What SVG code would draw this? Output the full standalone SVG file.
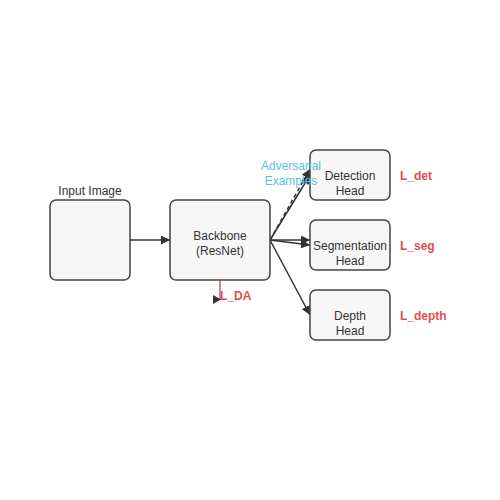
<svg xmlns="http://www.w3.org/2000/svg" width="500" height="500" viewBox="0 0 500 500">
<style>
.box{fill:#f7f7f7;stroke:#444;stroke-width:1.5}
.t{font-family:"Liberation Sans",Arial,sans-serif;font-size:12px;fill:#333;text-anchor:middle}
.loss{font-family:"Liberation Sans",Arial,sans-serif;font-size:12px;font-weight:bold;fill:#e04f4f}
.adv{font-family:"Liberation Sans",Arial,sans-serif;font-size:12px;fill:#5bc0de;text-anchor:middle}
.c{stroke:#333;stroke-width:1.5;fill:none}
</style>
<defs>
<marker id="ah" viewBox="0 0 10 10" refX="10" refY="5" markerWidth="6" markerHeight="6" markerUnits="strokeWidth" orient="auto">
<path d="M0,0 L10,5 L0,10 z" fill="#333"/>
</marker>
</defs>
<rect width="500" height="500" fill="#fff"/>
<g id="connectors">
<line class="c" x1="130" y1="240" x2="170" y2="240" marker-end="url(#ah)"/>
<line class="c" x1="270" y1="240" x2="310" y2="175" marker-end="url(#ah)"/>
<line class="c" x1="270" y1="240" x2="310" y2="169" stroke-dasharray="4,3" marker-end="url(#ah)"/>
<line class="c" x1="270" y1="240" x2="310" y2="240" marker-end="url(#ah)"/>
<line class="c" x1="270" y1="240" x2="310" y2="245" marker-end="url(#ah)"/>
<line class="c" x1="270" y1="240" x2="310" y2="315" marker-end="url(#ah)"/>
<line x1="220" y1="280" x2="220" y2="300" stroke="#e05555" stroke-width="1.5"/>
<path d="M213,295 L221,299.5 L213,304 z" fill="#333"/>
</g>
<g id="input">
<rect class="box" x="50" y="200" width="80" height="80" rx="6"/>
<text class="t" x="90" y="195">Input Image</text>
</g>
<g id="backbone">
<rect class="box" x="170" y="200" width="100" height="80" rx="6"/>
<text class="t" x="220" y="240">Backbone</text>
<text class="t" x="220" y="255">(ResNet)</text>
</g>
<g id="detection">
<rect class="box" x="310" y="150" width="80" height="50" rx="6"/>
<text class="t" x="350" y="180">Detection</text>
<text class="t" x="350" y="195">Head</text>
</g>
<g id="segmentation">
<rect class="box" x="310" y="220" width="80" height="50" rx="6"/>
<text class="t" x="350" y="250">Segmentation</text>
<text class="t" x="350" y="265">Head</text>
</g>
<g id="depth">
<rect class="box" x="310" y="290" width="80" height="50" rx="6"/>
<text class="t" x="350" y="320">Depth</text>
<text class="t" x="350" y="335">Head</text>
</g>
<g id="labels">
<text class="adv" x="291" y="170">Adversarial</text>
<text class="adv" x="291" y="185">Examples</text>
<text class="loss" x="220" y="300">L_DA</text>
<text class="loss" x="400" y="180">L_det</text>
<text class="loss" x="400" y="250">L_seg</text>
<text class="loss" x="400" y="320">L_depth</text>
</g>
</svg>
